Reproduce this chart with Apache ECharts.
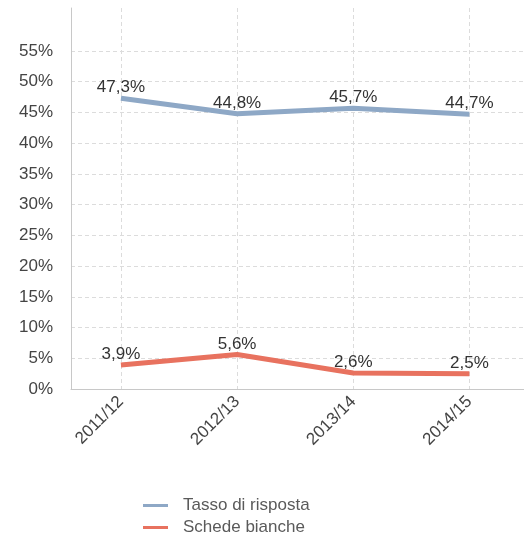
<!DOCTYPE html>
<html><head><meta charset="utf-8">
<script src="https://cdn.jsdelivr.net/npm/echarts@6/dist/echarts.min.js"></script>
<style>html,body{margin:0;padding:0;background:#fff}#c{width:524px;height:537px}</style>
</head><body><div id="c"></div>
<script>
const categories = ['2011/12', '2012/13', '2013/14', '2014/15'];
const tassoRisposta = [47.3, 44.8, 45.7, 44.7];
const schedeBianche = [3.9, 5.6, 2.6, 2.5];
const yTicks = [0, 5, 10, 15, 20, 25, 30, 35, 40, 45, 50, 55];
const seriesNames = ['Tasso di risposta', 'Schede bianche'];

const fmt = v => v.toFixed(1).replace('.', ',') + '%';
const toPts = arr => arr.map((v, i) => [i, v]);
const font = 'Liberation Sans, Arial, sans-serif';

const chart = echarts.init(document.getElementById('c'));
chart.setOption({
  animation: false,
  grid: { left: 71, right: 0, top: 8, bottom: 148, containLabel: false },
  xAxis: {
    type: 'value', min: -0.43, max: 3.47,
    axisLine: { show: true, onZero: false, lineStyle: { color: '#c8c8c8', width: 1 } },
    axisTick: { show: false, customValues: [0, 1, 2, 3] },
    axisLabel: {
      customValues: [0, 1, 2, 3], rotate: 45, margin: 10,
      color: '#444', fontSize: 17, fontFamily: font,
      formatter: v => categories[Math.round(v)] || ''
    },
    splitLine: { show: true, lineStyle: { color: '#dcdcdc', type: [4, 3] } }
  },
  yAxis: {
    type: 'value', min: 0, max: 62,
    axisLine: { show: true, onZero: false, lineStyle: { color: '#c8c8c8', width: 1 } },
    axisTick: { show: false, customValues: yTicks },
    axisLabel: {
      customValues: yTicks, margin: 18, color: '#444', fontSize: 17, fontFamily: font,
      formatter: v => v + '%'
    },
    splitLine: { show: true, lineStyle: { color: '#dcdcdc', type: [4, 3] } }
  },
  legend: {
    orient: 'vertical', left: 143, top: 497, height: 50, itemGap: 5, padding: 0,
    icon: 'rect', itemWidth: 25, itemHeight: 3,
    textStyle: { color: '#5a5a5a', fontSize: 17, fontFamily: font, padding: [0, 0, 0, 10] },
    data: seriesNames
  },
  series: [
    {
      name: seriesNames[0], type: 'line', data: toPts(tassoRisposta),
      symbol: 'circle', symbolSize: 0.1, showSymbol: true,
      lineStyle: { color: '#8ea8c6', width: 5 }, itemStyle: { color: '#8ea8c6' },
      label: { show: true, position: 'top', distance: 2, color: '#333', fontSize: 17, fontFamily: font,
        formatter: p => fmt(p.value[1]) }
    },
    {
      name: seriesNames[1], type: 'line', data: toPts(schedeBianche),
      symbol: 'circle', symbolSize: 0.1, showSymbol: true,
      lineStyle: { color: '#e8725f', width: 5 }, itemStyle: { color: '#e8725f' },
      label: { show: true, position: 'top', distance: 2, color: '#333', fontSize: 17, fontFamily: font,
        formatter: p => fmt(p.value[1]) }
    }
  ]
});
</script></body></html>
